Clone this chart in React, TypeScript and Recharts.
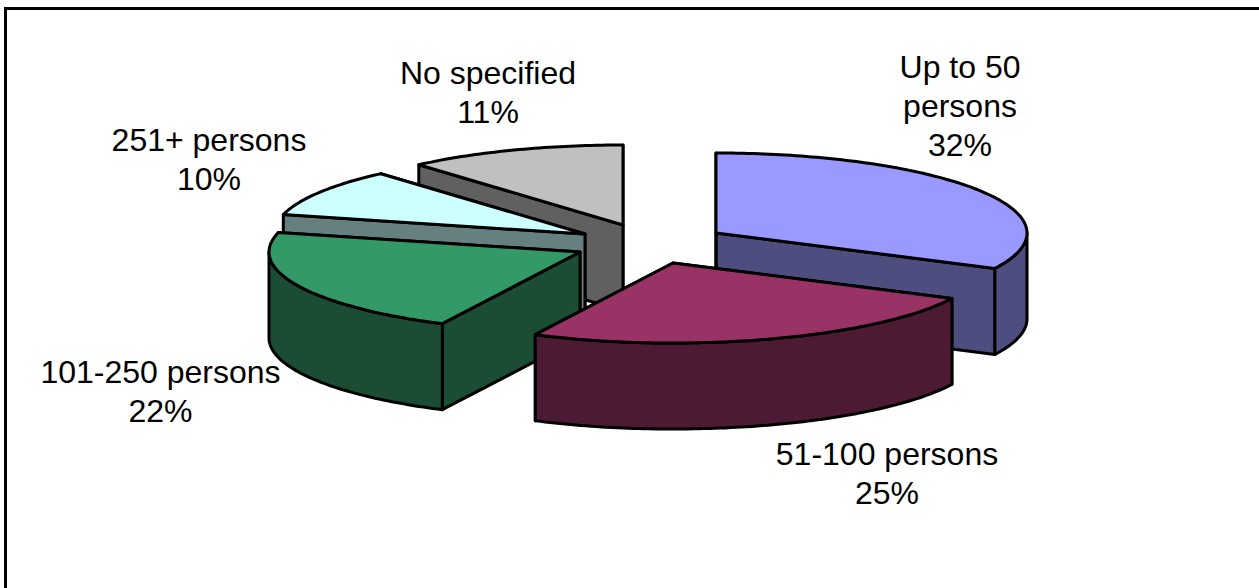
import { PieChart, Pie, Cell } from 'recharts'

// drawn order matters: back slices first, so the list starts at the right slice and runs counter-clockwise
const categories = ['Up to 50 persons', 'No specified', '251+ persons', '101-250 persons', '51-100 persons']
// the labels show them rounded
const shares = [32.3, 11.4, 9.7, 21.6, 25]
const labelLines = [['Up to 50', 'persons'], ['No specified'], ['251+ persons'], ['101-250 persons'], ['51-100 persons']]
const topColors = ['#9999ff', '#c0c0c0', '#ccffff', '#339966', '#993366']
const sideColors = ['#4d4d80', '#606060', '#668080', '#1a4d33', '#4d1a33']

const chartData = categories.map((name, i) => ({ name, value: shares[i] }))

const RADIUS = 311
const SQUASH = 80 / 311
const DEPTH = 86
const CX = 716
const CY = 233

// explode offset of every slice from the pie centre
const offsets = [
  [0, 0],
  [-93, -8],
  [-131, 1],
  [-136, 19],
  [-43, 30],
]
const labelPos = [
  { x: 960, y: 77.6 },
  { x: 488, y: 84 },
  { x: 209, y: 151 },
  { x: 160.5, y: 383 },
  { x: 887, y: 465 },
]

const rad = (deg: number) => (deg * Math.PI) / 180
const toPath = (pts: number[][]) => 'M' + pts.map((p) => `${p[0].toFixed(1)},${p[1].toFixed(1)}`).join('L') + 'Z'

const Slice3D = (props: any) => {
  const { cx, cy, startAngle, endAngle, outerRadius, index } = props
  const ox = cx + offsets[index][0]
  const oy = cy + offsets[index][1]
  const lo = Math.min(startAngle, endAngle)
  const hi = Math.max(startAngle, endAngle)

  const rim = (deg: number) => [
    ox + outerRadius * Math.cos(rad(deg)),
    oy - outerRadius * SQUASH * Math.sin(rad(deg)),
  ]
  const arc = (from: number, to: number) => {
    const steps = Math.max(2, Math.ceil(to - from))
    const pts = []
    for (let s = 0; s <= steps; s++) pts.push(rim(from + ((to - from) * s) / steps))
    return pts
  }
  const down = (p: number[]) => [p[0], p[1] + DEPTH]

  const apex = [ox, oy]
  const walls = [lo, hi].map((deg) => {
    const p = rim(deg)
    return [apex, p, down(p), down(apex)]
  })

  // only the part of the rim facing the viewer gets an outer wall
  const rimWalls = []
  for (const base of [-180, 180]) {
    const from = Math.max(lo, base)
    const to = Math.min(hi, base + 180)
    if (to > from) {
      const pts = arc(from, to)
      rimWalls.push([...pts, ...pts.slice().reverse().map(down)])
    }
  }

  const stroke = { stroke: '#000', strokeWidth: 3, strokeLinejoin: 'round' as const }
  return (
    <g>
      {walls.map((w, i) => (
        <path key={i} d={toPath(w)} fill={sideColors[index]} {...stroke} />
      ))}
      {rimWalls.map((w, i) => (
        <path key={i} d={toPath(w)} fill={sideColors[index]} {...stroke} />
      ))}
      <path d={toPath([apex, ...arc(lo, hi)])} fill={topColors[index]} {...stroke} />
    </g>
  )
}

const renderLabel = (props: any) => {
  const { index, value } = props
  const { x, y } = labelPos[index]
  const lines = [...labelLines[index], `${Math.round(value)}%`]
  return (
    <text x={x} y={y} textAnchor="middle" fontFamily="Liberation Sans" fontSize={32} fill="#000">
      {lines.map((line, i) => (
        <tspan key={i} x={x} y={y + i * 39.3}>
          {line}
        </tspan>
      ))}
    </text>
  )
}

export default function App() {
  return (
    <div style={{ position: 'absolute', left: 0, top: 0, width: 1259, height: 588, overflow: 'hidden', background: '#fff' }}>
      <div style={{ position: 'absolute', left: 4, top: 7, width: 1300, height: 640, borderLeft: '3px solid #000', borderTop: '3px solid #000' }} />
      <div style={{ position: 'absolute', left: 0, top: 0 }}>
        <PieChart width={1259} height={588} margin={{ top: 0, right: 0, bottom: 0, left: 0 }}>
          <Pie
            data={chartData}
            dataKey="value"
            cx={CX}
            cy={CY}
            innerRadius={0}
            outerRadius={RADIUS}
            startAngle={-26.28}
            endAngle={333.72}
            paddingAngle={0}
            stroke="none"
            shape={Slice3D}
            label={renderLabel}
            labelLine={false}
            isAnimationActive={false}>
            {chartData.map(({ name }, i) => (
              <Cell key={name} fill={topColors[i]} />
            ))}
          </Pie>
        </PieChart>
      </div>
    </div>
  )
}
